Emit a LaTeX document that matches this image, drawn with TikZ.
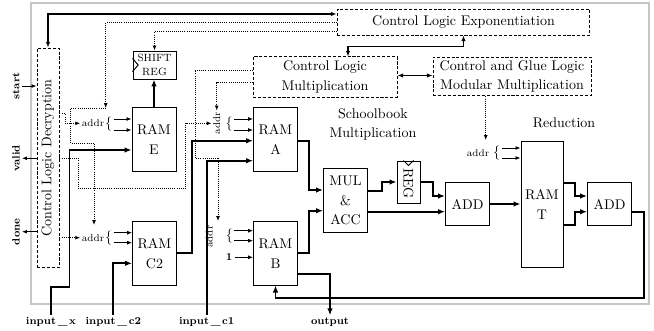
\documentclass[tikz,border=0pt]{standalone}
\usetikzlibrary{arrows.meta,calc}
\begin{document}
\begin{tikzpicture}[x=0.714pt,y=-0.714pt,
  box/.style={draw,line width=0.7pt,inner sep=0pt,align=center,font=\fontsize{10}{14}\selectfont},
  dbox/.style={box,dash pattern=on 2.2pt off 1.3pt},
  ram/.style={box,minimum width=31.4pt,minimum height=45pt},
  addbox/.style={box,minimum width=31.4pt,minimum height=31.4pt},
  thk/.style={line width=1.3pt,-{Latex[length=5pt,width=4pt]}},
  thn/.style={line width=0.6pt,-{Latex[length=3.5pt,width=2.8pt]}},
  ctl/.style={line width=0.9pt,{Latex[length=4pt,width=3.2pt]}-{Latex[length=4pt,width=3.2pt]}},
  dot/.style={line width=0.6pt,dash pattern=on 0.6pt off 0.9pt},
  dotar/.style={dot,-{Latex[length=3.5pt,width=2.8pt]}},
  sig/.style={font=\fontsize{7.5}{9}\selectfont\bfseries,inner sep=1.5pt},
  addrl/.style={font=\scriptsize,inner sep=1pt},
  brace/.style={font=\normalsize,inner sep=1pt},
  plain/.style={font=\fontsize{10}{14}\selectfont,align=center},
]
\useasboundingbox (0,0) rectangle (654,331);
\draw[gray!45,line width=1pt] (31,3) rectangle (649,304);

% boxes
\node[dbox,minimum width=15.7pt,minimum height=157pt] (dec) at (48,158) {};
\node[rotate=90,font=\fontsize{10}{12}\selectfont] (dectxt) at (dec.center) {Control Logic Decryption};
\node[dbox,minimum width=180.6pt,minimum height=17.9pt] (exp) at (463.5,22.5) {Control Logic Exponentiation};
\node[box,minimum width=30.7pt,minimum height=20pt,font=\fontsize{7.5}{10.5}\selectfont] (shift) at (154.5,65) {SHIFT\\REG};
\node[dbox,minimum width=102.8pt,minimum height=28.6pt] (clm) at (325,77) {Control Logic\\Multiplication};
\node[dbox,minimum width=112.8pt,minimum height=27.8pt] (cgl) at (512,76.5) {Control and Glue Logic\\Modular Multiplication};
\node[ram] (ramE) at (154,139.5) {RAM\\E};
\node[ram] (ramC) at (154.5,253.5) {RAM\\C2};
\node[ram] (ramA) at (275.5,139.5) {RAM\\A};
\node[ram] (ramB) at (275.5,253.5) {RAM\\B};
\node[ram] (mul) at (345.5,200.5) {MUL\\\&\\ACC};
\node[box,minimum width=16.4pt,minimum height=30pt] (reg) at (408.5,182) {};
\node[rotate=-90,font=\fontsize{10}{12}\selectfont] (regtxt) at (408.5,183.5) {REG};
\node[addbox] (add1) at (467.5,204) {ADD};
\node[box,minimum width=30pt,minimum height=89.3pt] (ramT) at (542,204.5) {RAM\\T};
\node[addbox] (add2) at (609.5,204) {ADD};

% clock triangles
\draw[line width=0.7pt] ($(shift.west)+(0,-6.7)$) -- ($(shift.west)+(5.6,0)$) -- ($(shift.west)+(0,6.7)$);
\draw[line width=0.7pt] ($(reg.north)+(-5,0)$) -- ($(reg.north)+(0,5)$) -- ($(reg.north)+(5,0)$);

% section labels
\node[plain] (sbm) at (373,124.5) {Schoolbook\\Multiplication};
\node[plain] (red) at (564,122.3) {Reduction};

% signal labels
\node[sig,rotate=90] (st) at (16,86) {start};
\node[sig,rotate=90] (vl) at (16,158.3) {valid};
\node[sig,rotate=90] (dn) at (16,231.7) {done};
\node[sig] (ix) at (51,322) {input\,\_\,x};
\node[sig] (ic2) at (113.3,322) {input\,\_\,c2};
\node[sig] (ic1) at (206.7,322) {input\,\_\,c1};
\node[sig] (out) at (330,322) {output};

\draw[thn] (st.south) -- (dec.west |- st.south);
\draw[thn] (dec.west |- vl.south) -- (vl.south);
\draw[thn] (dec.west |- dn.south) -- (dn.south);

% addr labels and braces
\node[addrl] (aE) at (93,123.3) {addr};
\node[brace] (bE) at (108.5,124.5) {$\{$};
\draw[thn] (bE.east |- 0,119) -- (ramE.west |- 0,119);
\draw[thn] (bE.east |- 0,130) -- (ramE.west |- 0,130);

\node[addrl] (aC) at (93,237.7) {addr};
\node[brace] (bC) at (108.5,237.7) {$\{$};
\draw[thn] (bC.east |- 0,232.7) -- (ramC.west |- 0,232.7);
\draw[thn] (bC.east |- 0,242.7) -- (ramC.west |- 0,242.7);

\node[addrl,rotate=90] (aA) at (216.7,123.3) {addr};
\node[brace] (bA) at (229,124.5) {$\{$};
\draw[thn] (bA.east |- 0,119) -- (ramA.west |- 0,119);
\draw[thn] (bA.east |- 0,130) -- (ramA.west |- 0,130);

\node[addrl,rotate=90] (aB) at (209.3,236.7) {addr};
\node[brace] (bB) at (229.3,235.7) {$\{$};
\draw[thn] (bB.east |- 0,230.7) -- (ramB.west |- 0,230.7);
\draw[thn] (bB.east |- 0,240.7) -- (ramB.west |- 0,240.7);
\node[sig] (oneB) at (229,257.3) {1};
\draw[thn] (oneB.east) -- (ramB.west |- oneB.east);

\node[addrl] (aT) at (478,153) {addr};
\node[brace] (bT) at (496.7,153) {$\{$};
\draw[thn] (bT.east |- 0,148) -- (ramT.west |- 0,148);
\draw[thn] (bT.east |- 0,158) -- (ramT.west |- 0,158);

% data path
\draw[thk] (ix.north) |- (69.5,286.7) |- (ramE.west |- 0,150);
\draw[thk] (ic2.north) |- (ramC.west |- 0,263.3);
\draw[thk] (ic1.north) |- (ramA.west |- 0,160.7);
\draw[thk] (ramC.east |- 0,253.3) -| (191.7,140.7) -- (ramA.west |- 0,140.7);
\draw[thk] (ramE.north) -- (ramE.north |- shift.south);
\draw[thk] (ramA.east |- 0,140.7) -| (309,190) -- (mul.west |- 0,190);
\draw[thk] (ramB.east |- 0,253.3) -| (309,210.7) -- (mul.west |- 0,210.7);
\draw[thk] (ramB.east |- 0,274) -| (out.north);
\draw[thk] (mul.east |- 0,190.7) -| (382,182) -- (reg.west);
\draw[thk] (reg.east) -| (432.7,196) -- (add1.west |- 0,196);
\draw[thk] (mul.east |- 0,211.7) -- (add1.west |- 0,211.7);
\draw[thk] (add1.east) -- (ramT.west |- add1.east);
\draw[thk] (ramT.east |- 0,182.7) -| (575,196) -- (add2.west |- 0,196);
\draw[thk] (ramT.east |- 0,225) -| (575,211.7) -- (add2.west |- 0,211.7);
\draw[thk] (add2.east |- 0,211.7) -| (644,298.3) -| (ramB.south);

% control
\draw[ctl] (dec.north) |- (exp.west |- 0,14);
\draw[ctl] (exp.south) |- (348,46.7) -- (clm.north -| 348,0);
\draw[ctl] (clm.east |- 0,75.5) -- (cgl.west |- 0,75.5);

% dotted address lines
\coordinate (eIn) at (105.7,108);
\coordinate (cIn) at (94,225);
\coordinate (bIn) at (218,221);
\coordinate (tIn) at (485.7,140);
\draw[dotar] (exp.west |- 0,22.7) -| (eIn);
\draw[dotar] (eIn) -| (70.7,143.3) -| (cIn);
\draw[dotar] (exp.west |- 0,31.7) -| (shift.north);
\draw[dotar] (dec.east |- 0,113.7) -| (65,123.3) -- (aE.west);
\draw[dotar] (dec.east |- 0,158.3) -| (78.3,188.3) -| (185.7,123.3) -- (aA.north);
\draw[dotar] (clm.west |- 0,82.7) -| (aA.east);
\draw[dotar] (clm.west |- 0,70) -| (195,158.3) -| (bIn);
\draw[dotar] (dec.east |- 0,237.7) -- (aC.west);
\draw[dotar] (tIn |- cgl.south) -- (tIn);
\end{tikzpicture}
\end{document}
